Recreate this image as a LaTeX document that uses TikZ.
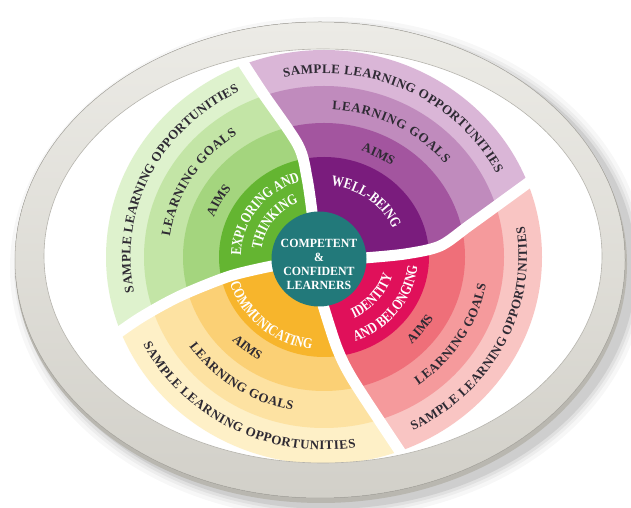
\documentclass[tikz,border=0pt]{standalone}
\usepackage{fontspec}
\setmainfont{Liberation Serif}
\newfontfamily\condfam{Liberation Serif}[FakeStretch=0.8]
\newfontfamily\corefam{Liberation Serif}[FakeStretch=0.95]
\usetikzlibrary{decorations.text}
\definecolor{gr1}{HTML}{64B531}
\definecolor{gr2}{HTML}{A4D57E}
\definecolor{gr3}{HTML}{C3E5A6}
\definecolor{gr4}{HTML}{DEF2CD}
\definecolor{pu1}{HTML}{7A1C7D}
\definecolor{pu2}{HTML}{A3559F}
\definecolor{pu3}{HTML}{C08BBD}
\definecolor{pu4}{HTML}{DAB6D7}
\definecolor{re1}{HTML}{E0105A}
\definecolor{re2}{HTML}{EF6F79}
\definecolor{re3}{HTML}{F59A9C}
\definecolor{re4}{HTML}{F9C5C3}
\definecolor{ye1}{HTML}{F7B52C}
\definecolor{ye2}{HTML}{FBD075}
\definecolor{ye3}{HTML}{FDE2A2}
\definecolor{ye4}{HTML}{FEF0C7}
\definecolor{tealc}{HTML}{22797A}
\definecolor{labc}{HTML}{2E2A33}
\definecolor{ringtop}{HTML}{ECEBE6}
\definecolor{ringbot}{HTML}{D2D0C9}
\definecolor{ringlip}{HTML}{B9B7B0}
\definecolor{ringedge}{HTML}{B5B3AC}
\newcommand\ringfnt{\bfseries\fontsize{13}{15}\selectfont\color{labc}}
\newcommand\whitefnt{\condfam\bfseries\fontsize{15}{17}\selectfont\color{white}}
\newcommand\wheelrings[4]{%
  \fill[#1] (324,251) ellipse[x radius=218, y radius=207];
  \fill[#2] (324,251) ellipse[x radius=180, y radius=171];
  \fill[#3] (324,251) ellipse[x radius=141, y radius=134];
  \fill[#4] (324,251) ellipse[x radius=105, y radius=100];}
\newcommand\arclab[6]{%
  \path[decorate, decoration={text along path, text align={#5}, text={#6}}]
    ({324+#3*cos(#1)},{251+#4*sin(#1)}) arc[start angle=#1, end angle=#2, x radius=#3, y radius=#4];}
\tikzset{gapline/.style={white, line width=11pt, line cap=round}}
\begin{document}
\begin{tikzpicture}[x=1pt,y=1pt]
\useasboundingbox (0,0) rectangle (631,508);
\fill[white] (0,0) rectangle (631,508);
% plate shadow
\foreach \k/\o in {12/0.03,8/0.04,5/0.05,2/0.08}{
  \fill[black,opacity=\o] (328,240) ellipse[x radius={306+\k}, y radius={239+\k}];
}
\fill[ringlip] (321,244) ellipse[x radius=306, y radius=239];
\fill[top color=ringtop, bottom color=ringbot] (320,248) ellipse[x radius=305, y radius=238];
\draw[ringedge, line width=0.5pt] (320,248) ellipse[x radius=305, y radius=238];
\fill[white] (323,252) ellipse[x radius=279, y radius=207];
\begin{scope}
\clip (323,252) ellipse[x radius=279, y radius=207];
% purple
\begin{scope}
\clip (324,251) -- plot[smooth] coordinates {(364,250) (405,254) (440,262) (470,283) (532,328) (548,340)}
  -- (640,340) -- (640,520) -- (225,520)
  -- plot[smooth] coordinates {(225,474) (236,456) (262,416) (298,363) (307,330) (312,296)} -- cycle;
\wheelrings{pu4}{pu3}{pu2}{pu1}
\end{scope}
% green
\begin{scope}
\clip (324,251) -- plot[smooth] coordinates {(312,296) (307,330) (298,363) (262,416) (236,456) (225,474)}
  -- (225,520) -- (-10,520) -- (-10,156)
  -- plot[smooth] coordinates {(90,156) (104,165) (140,190) (180,212) (230,232) (272,242)} -- cycle;
\wheelrings{gr4}{gr3}{gr2}{gr1}
\end{scope}
% yellow
\begin{scope}
\clip (324,251) -- plot[smooth] coordinates {(272,242) (230,232) (180,212) (140,190) (104,165) (90,156)}
  -- (-10,156) -- (-10,-10) -- (422,-10)
  -- plot[smooth] coordinates {(422,22) (414,36) (397,61) (353,128) (337,160) (323,203)} -- cycle;
\wheelrings{ye4}{ye3}{ye2}{ye1}
\end{scope}
% red
\begin{scope}
\clip (324,251) -- plot[smooth] coordinates {(323,203) (337,160) (353,128) (397,61) (414,36) (422,22)}
  -- (422,-10) -- (640,-10) -- (640,340)
  -- plot[smooth] coordinates {(548,340) (532,328) (470,283) (440,262) (405,254) (364,250)} -- cycle;
\wheelrings{re4}{re3}{re2}{re1}
\end{scope}
% gaps
\draw[gapline] plot[smooth] coordinates {(312,296) (307,330) (298,363) (262,416) (236,456) (225,474)};
\draw[gapline] plot[smooth] coordinates {(364,250) (405,254) (440,262) (470,283) (532,328) (548,340)};
\draw[gapline] plot[smooth] coordinates {(323,203) (337,160) (353,128) (397,61) (414,36) (422,22)};
\draw[gapline] plot[smooth] coordinates {(272,242) (230,232) (180,212) (140,190) (104,165) (90,156)};
\end{scope}
\draw[ringedge, line width=0.6pt] (323,252) ellipse[x radius=279, y radius=207];
% purple labels
\arclab{102}{27}{193.5}{183.8}{fit to path}{|\ringfnt|SAMPLE LEARNING OPPORTUNITIES}
\arclab{87}{39}{155.5}{147.7}{fit to path}{|\ringfnt|LEARNING GOALS}
\arclab{93}{33}{117.5}{111.6}{center}{|\ringfnt|AIMS}
\arclab{107}{0}{75}{71.25}{center}{|\whitefnt|WELL-BEING}
% green labels
\arclab{191}{116}{193.5}{183.8}{fit to path}{|\ringfnt|SAMPLE LEARNING OPPORTUNITIES}
\arclab{172}{124}{155.5}{147.7}{fit to path}{|\ringfnt|LEARNING GOALS}
\arclab{181}{121}{117.5}{111.6}{center}{|\ringfnt|AIMS}
\arclab{210}{77}{83}{78.85}{center}{|\whitefnt|EXPLORING AND}
\arclab{210}{78}{63}{59.85}{center}{|\whitefnt|THINKING}
% yellow labels
\arclab{207}{279}{203}{192.85}{fit to path}{|\ringfnt|SAMPLE LEARNING OPPORTUNITIES}
\arclab{215}{259}{164.5}{156.3}{fit to path}{|\ringfnt|LEARNING GOALS}
\arclab{201}{261}{127}{120.65}{center}{|\ringfnt|AIMS}
\arclab{169}{289}{98}{93.1}{center}{|\whitefnt|COMMUNICATING}
% red labels
\arclab{296}{369}{203}{192.85}{fit to path}{|\ringfnt|SAMPLE LEARNING OPPORTUNITIES}
\arclab{305}{350}{164.5}{156.3}{fit to path}{|\ringfnt|LEARNING GOALS}
\arclab{292}{352}{127}{120.65}{center}{|\ringfnt|AIMS}
\arclab{260}{381}{71}{67.45}{center}{|\whitefnt|IDENTITY}
\arclab{262}{383}{94}{89.3}{center}{|\whitefnt|AND BELONGING}
% core
\node[circle, fill=tealc, minimum size=95pt, inner sep=0pt] (core) at (319,249) {};
\node[align=center, text=white, font=\corefam\bfseries\fontsize{12.5}{14}\selectfont] (coretext) at (319,244)
  {COMPETENT\\\&\\CONFIDENT\\LEARNERS};
\end{tikzpicture}
\end{document}
